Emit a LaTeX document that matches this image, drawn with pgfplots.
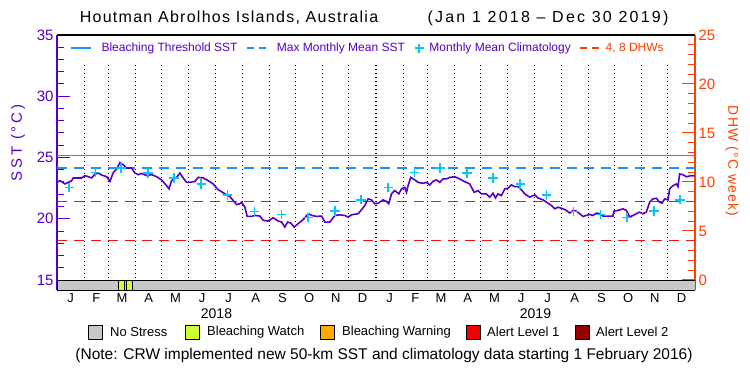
\documentclass[border=0pt]{standalone}
\usepackage{fontspec}
\setmainfont{Liberation Sans}
\newfontfamily\widefont{Liberation Sans}[LetterSpace=8]
\newfontfamily\datefont{Liberation Sans}[LetterSpace=14]
\newfontfamily\widerfont{Liberation Sans}[LetterSpace=18]
\usepackage{pgfplots}
\pgfplotsset{compat=1.18}
\usepackage{pgfplotstable}

\definecolor{sstpurple}{RGB}{85,0,200}
\definecolor{threshblue}{RGB}{30,144,255}
\definecolor{climcyan}{RGB}{0,200,255}
\definecolor{dhwaxis}{RGB}{255,64,0}
\definecolor{dhwline}{RGB}{240,20,20}
\definecolor{stressgray}{RGB}{200,200,200}
\definecolor{watch}{RGB}{204,255,51}
\definecolor{warning}{RGB}{255,170,0}
\definecolor{alertone}{RGB}{240,0,0}
\definecolor{alerttwo}{RGB}{150,0,0}

\pgfplotstableread{
day sst
0 22.97
3.4 23.11
9.1 22.84
12.9 22.97
16.8 23.11
18.6 23.33
22.5 23.33
28.2 23.33
32.0 23.52
35.8 23.43
39.7 23.33
43.5 23.65
47.2 23.73
51.1 23.57
56.8 23.43
60.6 23.05
64.4 23.78
68.3 24.05
72.0 24.59
75.8 24.41
79.7 24.14
85.4 24.14
89.2 23.73
93.0 23.60
96.9 23.70
102.6 23.52
108.3 23.60
114.0 23.43
119.7 23.17
125.4 22.70
128.1 22.44
131.2 23.11
136.9 23.38
140.6 23.73
144.4 23.33
148.3 22.97
152.1 22.97
157.8 23.05
161.6 23.38
167.3 23.33
173.0 23.11
178.7 22.84
184.5 22.36
186.4 22.30
192.1 22.03
197.8 21.81
201.6 21.49
205.5 21.16
209.3 21.22
211.2 21.35
215.0 20.94
217.6 20.19
222.6 20.19
226.4 20.27
232.1 20.22
235.9 19.87
241.6 19.81
247.3 20.08
253.1 19.81
256.9 19.73
260.7 19.32
263.8 19.73
267.6 19.65
271.4 19.32
275.9 19.60
281.6 19.92
287.4 20.41
291.9 20.27
297.0 20.19
302.7 20.22
306.5 19.73
312.2 19.73
317.9 20.27
323.6 20.32
329.3 20.27
333.1 20.13
337.0 20.32
344.5 20.41
348.4 20.73
352.2 21.08
356.0 21.62
359.9 21.54
363.6 21.22
367.4 21.27
373.1 21.54
377.0 21.41
379.6 21.22
382.7 22.03
386.5 22.30
391.1 22.03
394.2 22.44
397.9 22.57
399.9 22.16
401.7 22.70
404.8 23.38
409.4 23.17
413.1 22.97
418.9 22.89
422.8 22.97
426.5 22.76
430.3 23.05
434.2 23.17
438.0 22.97
441.7 23.25
445.6 23.25
449.4 23.38
455.1 23.43
460.8 23.25
466.5 23.03
472.3 22.84
477.2 22.16
481.8 22.30
485.6 22.03
491.4 22.03
495.1 21.76
498.9 22.08
501.7 21.70
504.6 22.03
508.5 21.89
512.3 22.44
516.1 22.49
519.9 22.76
523.7 22.62
527.5 22.62
531.4 22.36
535.2 22.03
540.9 21.76
546.6 21.95
550.4 21.70
556.1 21.54
561.8 21.27
565.7 21.08
569.5 20.81
573.3 20.94
579.0 20.81
582.9 20.68
586.6 20.46
590.4 20.68
594.3 20.62
598.1 20.41
601.8 20.19
605.7 20.27
609.5 20.35
613.3 20.27
617.2 20.46
620.9 20.41
624.7 20.22
630.4 20.22
636.1 20.22
637.3 20.62
641.8 20.68
647.6 20.81
651.5 20.68
655.2 20.14
659.0 20.27
662.9 20.41
666.7 20.54
670.4 20.41
674.3 20.54
678.1 21.35
681.8 21.62
685.7 21.67
689.5 21.35
692.2 21.27
695.3 21.62
699.1 21.54
701.0 22.44
704.8 22.70
708.7 22.84
710.5 22.62
712.4 23.65
716.2 23.60
720.1 23.43
725.8 23.52
729.5 23.50
}\sstdata

\pgfplotstableread{
day clim
14 22.57
44 23.78
73 24.14
104 23.73
134 23.33
165 22.84
195 21.95
226 20.60
257 20.33
287 20.10
318 20.64
348 21.55
379 22.57
409 23.78
438 24.14
469 23.73
499 23.33
530 22.84
560 21.95
591 20.60
622 20.33
652 20.10
683 20.64
713 21.55
}\climdata

\pgfplotstableread{
day top
31 32.71
59 32.71
90 32.71
120 32.71
151 32.71
181 32.71
212 32.71
243 32.71
273 32.71
304 32.71
334 32.71
396 32.71
424 32.71
455 32.71
485 32.71
516 32.71
546 32.71
577 32.71
608 32.71
638 32.71
669 32.71
699 32.71
}\monthlines

\begin{document}
\begin{tikzpicture}
\useasboundingbox (0,0) rectangle (750bp,375bp);
% DHW axis (right)
\begin{axis}[
  at={(57bp,85bp)}, anchor=south west, scale only axis,
  width=638bp, height=255bp,
  xmin=0, xmax=730, ymin=-1.0204, ymax=25,
  axis x line=none, axis y line*=right,
  y axis line style={dhwaxis, line width=1.3bp},
  ytick={0,5,...,25}, minor y tick num=4,
  tick align=inside, major tick length=13bp, minor tick length=7bp,
  every y tick/.style={dhwaxis, line width=1bp},
  yticklabel style={text=dhwaxis, font=\fontsize{15bp}{15bp}\selectfont},
  /pgf/number format/assume math mode=true,
]
\addplot[dhwline, line width=1.3bp, dash pattern=on 10bp off 7bp] coordinates {(0,4) (730,4)};
\addplot[dhwline, line width=1.3bp, dash pattern=on 10bp off 7bp] coordinates {(0,8) (730,8)};
\end{axis}
% SST axis (left)
\begin{axis}[
  at={(57bp,85bp)}, anchor=south west, scale only axis,
  width=638bp, height=255bp,
  xmin=0, xmax=730, ymin=14.1837, ymax=35,
  axis y line*=left,
  x axis line style={black, line width=1.3bp},
  y axis line style={sstpurple, line width=1.3bp},
  xtick={15.5,45,74.5,105,135.5,166,196.5,227.5,258,288.5,319,349.5,380.5,410,439.5,470,500.5,531,561.5,592.5,623,653.5,684,714.5},
  xticklabels={J,F,M,A,M,J,J,A,S,O,N,D,J,F,M,A,M,J,J,A,S,O,N,D},
  xtick style={draw=none},
  xticklabel style={font=\fontsize{13bp}{13bp}\selectfont, text=black},
  extra x ticks={182.5,547.5}, extra x tick labels={2018,2019},
  extra x tick style={xtick style={draw=none}, xticklabel style={yshift=-15bp, font=\fontsize{14bp}{14bp}\selectfont}},
  ytick={15,20,...,35}, minor y tick num=4, ytick pos=left,
  tick align=inside, major tick length=13bp, minor tick length=7bp,
  every y tick/.style={sstpurple, line width=1bp},
  yticklabel style={text=sstpurple, font=\fontsize{15bp}{15bp}\selectfont},
  /pgf/number format/assume math mode=true,
  legend style={at={(axis description cs:0.0204,0.949)}, anchor=west,
    draw=none, fill=none, inner sep=0pt, nodes={inner sep=0pt},
    font=\fontsize{12bp}{14bp}\selectfont, text=sstpurple,
    /tikz/every odd column/.append style={column sep=0bp},
    /tikz/every even column/.append style={column sep=9bp}},
  legend columns=4,
  legend image code/.code={\draw[#1] (0bp,0bp) -- (20bp,0bp); \path (30bp,0bp);},
]
\addplot[ycomb, black, line width=1bp, dash pattern=on 1bp off 3bp, forget plot] table[x=day, y=top] {\monthlines};
\addplot[ycomb, black, line width=1.6bp, dash pattern=on 1bp off 3bp, forget plot] coordinates {(365,32.71)};
\addplot[threshblue, line width=1.3bp] coordinates {(0,25.14) (730,25.14)};
\addlegendentry{Bleaching Threshold SST}
\addplot[threshblue, line width=1.3bp, dash pattern=on 10bp off 7bp,
  legend image code/.code={\draw[threshblue, line width=1.3bp, dash pattern=on 7bp off 5bp] (0bp,0bp) -- (19bp,0bp); \path (29bp,0bp);}] coordinates {(0,24.14) (730,24.14)};
\addlegendentry{Max Monthly Mean SST}
\addplot[only marks, mark=+, mark size=4.7bp, climcyan, line width=1.5bp,
  legend image code/.code={\draw[climcyan, line width=1.5bp] (0bp,0bp) -- (9bp,0bp) (4.5bp,-4.5bp) -- (4.5bp,4.5bp); \path (14bp,0bp);}] table[x=day, y=clim] {\climdata};
\addlegendentry{Monthly Mean Climatology}
\addlegendimage{legend image code/.code={\draw[dhwaxis, line width=1.3bp, dash pattern=on 7bp off 5bp] (0bp,0bp) -- (19bp,0bp); \path (25bp,0bp);}}
\addlegendentry{\textcolor{dhwaxis}{4, 8 DHWs}}
\addplot[sstpurple, line width=1.6bp, forget plot] table[x=day, y=sst] {\sstdata};
% stress strip
\addplot[fill=stressgray, draw=black, line width=1bp, forget plot] coordinates {(0,14.1837) (730,14.1837) (730,15) (0,15)} -- cycle;
\addplot[fill=watch, draw=black, line width=1bp, forget plot] coordinates {(70,14.1837) (77,14.1837) (77,15) (70,15)} -- cycle;
\addplot[fill=watch, draw=black, line width=1bp, forget plot] coordinates {(80,14.1837) (86,14.1837) (86,15) (80,15)} -- cycle;
\end{axis}
% titles and labels
\node[font=\widefont\fontsize{16bp}{16bp}\selectfont] at (229bp,357bp) {Houtman Abrolhos Islands, Australia};
\node[font=\datefont\fontsize{16bp}{16bp}\selectfont] at (548bp,357bp) {(Jan 1 2018 \textendash{} Dec 30 2019)};
\node[rotate=90, text=sstpurple, font=\widerfont\fontsize{15bp}{15bp}\selectfont] at (18bp,232bp) {SST (°C)};
\node[rotate=-90, text=dhwaxis, font=\widefont\fontsize{14bp}{14bp}\selectfont] at (732bp,214bp) {DHW (°C week)};
% stress legend
\begin{scope}[every node/.style={font=\fontsize{13bp}{13bp}\selectfont}]
\node[draw=black, fill=stressgray, minimum size=14bp, inner sep=0pt, line width=0.8bp] at (95bp,43bp) {};
\node[anchor=west, inner sep=0pt] at (110bp,43bp) {No Stress};
\node[draw=black, fill=watch, minimum size=14bp, inner sep=0pt, line width=0.8bp] at (192bp,43bp) {};
\node[anchor=west, inner sep=0pt] at (207bp,43bp) {Bleaching Watch};
\node[draw=black, fill=warning, minimum size=14bp, inner sep=0pt, line width=0.8bp] at (327bp,43bp) {};
\node[anchor=west, inner sep=0pt] at (342bp,43bp) {Bleaching Warning};
\node[draw=black, fill=alertone, minimum size=14bp, inner sep=0pt, line width=0.8bp] at (473bp,43bp) {};
\node[anchor=west, inner sep=0pt] at (487bp,43bp) {Alert Level 1};
\node[draw=black, fill=alerttwo, minimum size=14bp, inner sep=0pt, line width=0.8bp] at (582bp,43bp) {};
\node[anchor=west, inner sep=0pt] at (596bp,43bp) {Alert Level 2};
\end{scope}
\node[font=\fontsize{15.5bp}{15.5bp}\selectfont] at (384bp,20bp) {(Note: CRW implemented new 50-km SST and climatology data starting 1 February 2016)};
\end{tikzpicture}
\end{document}
